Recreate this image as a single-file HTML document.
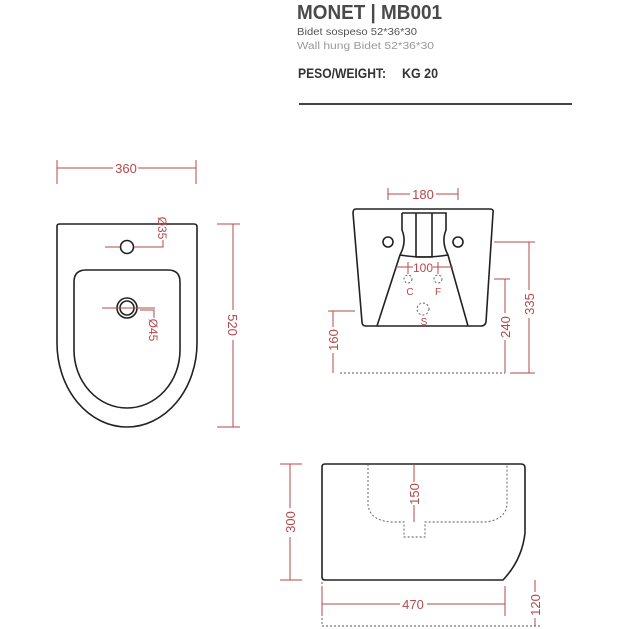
<!DOCTYPE html>
<html><head><meta charset="utf-8"><style>
html,body{margin:0;padding:0;background:#fff;width:629px;height:629px;overflow:hidden}
svg{display:block}
</style></head><body>
<svg width="629" height="629" viewBox="0 0 629 629" xmlns="http://www.w3.org/2000/svg" font-family="Liberation Sans, sans-serif">
<!-- header -->
<text x="297" y="19" font-size="20" font-weight="bold" fill="#4a4a4a" textLength="145" lengthAdjust="spacingAndGlyphs">MONET | MB001</text>
<text x="297" y="35" font-size="10" fill="#555" textLength="120" lengthAdjust="spacingAndGlyphs">Bidet sospeso  52*36*30</text>
<text x="297" y="49" font-size="10" fill="#999" textLength="137" lengthAdjust="spacingAndGlyphs">Wall hung Bidet    52*36*30</text>
<text x="298" y="78" font-size="14" font-weight="bold" fill="#333" textLength="88" lengthAdjust="spacingAndGlyphs">PESO/WEIGHT:</text>
<text x="402" y="78" font-size="14" font-weight="bold" fill="#333" textLength="36" lengthAdjust="spacingAndGlyphs">KG 20</text>
<line x1="299" y1="104" x2="572" y2="104" stroke="#444" stroke-width="2"/>

<g fill="none" stroke="#222" stroke-width="1.6">
<!-- top view -->
<path d="M57 226 Q57 224 60 224 L194 224 Q197 224 197 227 L197 343 A70 84 0 0 1 57 343 Z"/>
<path d="M74 350 L74 282 Q74 270 86 270 L168 270 Q180 270 180 282 L180 350 A53 58 0 0 1 74 350 Z"/>
<circle cx="127" cy="247" r="6.5"/>
<circle cx="127" cy="308" r="10"/>
<circle cx="127" cy="308" r="7"/>
<!-- front view -->
<path d="M356 209 L490 209 Q494 209 493 213 L486 322 Q485 326 481 326 L366 326 Q362 326 362 322 L353 213 Q353 209 356 209 Z"/>
<path d="M402 213 L446 213 L446 230 Q441 242 448 255 L468 326 M402 213 L402 230 Q407 242 400 255 L377 326"/>
<path d="M400 255 Q424 259 448 255" />
<path d="M416 213 L416 257 L432 257 L432 213"/>
<circle cx="388" cy="242" r="5"/>
<circle cx="458" cy="242" r="5"/>
<!-- side view -->
<path d="M325 464 L521 464 Q525 464 525 468 L525 533 Q522 560 503 580 L325 580 Q322 580 322 577 L322 467 Q322 464 325 464 Z"/>
</g>
<g fill="none" stroke="#555" stroke-width="0.9" stroke-dasharray="2,2">
<circle cx="408" cy="279" r="4"/>
<circle cx="438" cy="279" r="4"/>
<circle cx="423" cy="309" r="6"/>
<path d="M368 464 L368 505 Q370 520 390 522 L404 522 L404 537 L425 537 L425 522 L485 522 Q505 520 507 505 L507 464"/>
<line x1="340" y1="373" x2="505" y2="373"/>
<line x1="322" y1="626" x2="540" y2="626"/>
<line x1="322" y1="582" x2="322" y2="626"/>
</g>

<g stroke="#b5484a" stroke-width="1" fill="none">
<line x1="57" y1="160" x2="57" y2="184"/><line x1="196" y1="160" x2="196" y2="184"/>
<line x1="57" y1="168" x2="113" y2="168"/><line x1="138" y1="168" x2="196" y2="168"/>
<line x1="217" y1="224" x2="240" y2="224"/><line x1="217" y1="427" x2="240" y2="427"/>
<line x1="233" y1="224" x2="233" y2="310"/><line x1="233" y1="340" x2="233" y2="427"/>
<line x1="105" y1="247" x2="120" y2="247"/><polyline points="134,247 163,247 163,240"/>
<line x1="102" y1="308" x2="155" y2="308"/><polyline points="140,310 154,310 154,318"/>
<line x1="388" y1="188" x2="388" y2="200"/><line x1="458" y1="188" x2="458" y2="200"/>
<line x1="388" y1="194" x2="410" y2="194"/><line x1="436" y1="194" x2="458" y2="194"/>
<line x1="408" y1="262" x2="408" y2="274"/><line x1="438" y1="262" x2="438" y2="274"/>
<line x1="395" y1="267" x2="413" y2="267"/><line x1="433" y1="267" x2="453" y2="267"/>
<line x1="494" y1="242" x2="535" y2="242"/><line x1="510" y1="373" x2="535" y2="373"/>
<line x1="529" y1="242" x2="529" y2="290"/><line x1="529" y1="318" x2="529" y2="373"/>
<line x1="494" y1="279" x2="510" y2="279"/>
<line x1="505" y1="279" x2="505" y2="313"/><line x1="505" y1="340" x2="505" y2="373"/>
<line x1="328" y1="311" x2="355" y2="311"/>
<line x1="333" y1="311" x2="333" y2="327"/><line x1="333" y1="353" x2="333" y2="373"/>
<line x1="414" y1="464" x2="414" y2="482"/><line x1="414" y1="505" x2="414" y2="522"/>
<line x1="280" y1="464" x2="302" y2="464"/><line x1="280" y1="580" x2="302" y2="580"/>
<line x1="290" y1="464" x2="290" y2="508"/><line x1="290" y1="537" x2="290" y2="580"/>
<line x1="322" y1="586" x2="322" y2="616"/><line x1="505" y1="586" x2="505" y2="616"/>
<line x1="322" y1="604" x2="400" y2="604"/><line x1="427" y1="604" x2="505" y2="604"/>
<line x1="535" y1="580" x2="535" y2="592"/><line x1="535" y1="618" x2="535" y2="626"/>
</g>
<g fill="#b5484a" font-size="13">
<text x="126" y="173" text-anchor="middle">360</text>
<text x="423" y="199" text-anchor="middle">180</text>
<text x="423" y="272" text-anchor="middle" font-size="12">100</text>
<text x="413" y="609" text-anchor="middle">470</text>
<text x="410" y="295" text-anchor="middle" font-size="10">C</text>
<text x="438" y="295" text-anchor="middle" font-size="10">F</text>
<text x="424" y="325" text-anchor="middle" font-size="10">S</text>
<text transform="translate(228,325) rotate(90)" text-anchor="middle">520</text>
<text transform="translate(158,228) rotate(90)" text-anchor="middle" font-size="12">Ø35</text>
<text transform="translate(149,330) rotate(90)" text-anchor="middle" font-size="12">Ø45</text>
<text transform="translate(534,304) rotate(-90)" text-anchor="middle">335</text>
<text transform="translate(510,327) rotate(-90)" text-anchor="middle">240</text>
<text transform="translate(338,340) rotate(-90)" text-anchor="middle">160</text>
<text transform="translate(419,494) rotate(-90)" text-anchor="middle">150</text>
<text transform="translate(295,522) rotate(-90)" text-anchor="middle">300</text>
<text transform="translate(540,605) rotate(-90)" text-anchor="middle">120</text>
</g>
</svg>
</body></html>
